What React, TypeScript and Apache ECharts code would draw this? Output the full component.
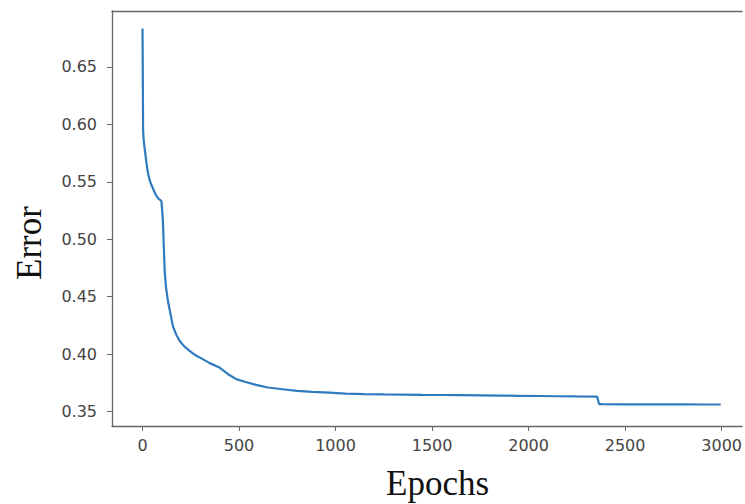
import React, { useEffect, useRef } from "react";
import * as echarts from "echarts";

const epochs = [0, 1, 2, 3, 6, 12, 20, 29, 38, 47, 55, 65, 75, 85, 93, 98, 102, 106, 110, 115, 122, 132, 145, 158, 175, 192, 215, 244, 275, 312, 350, 399, 440, 485, 530, 588, 650, 725, 800, 880, 967, 1052, 1150, 1250, 1350, 1450, 1550, 1652, 1750, 1850, 1950, 2050, 2150, 2250, 2355, 2365, 2380, 2500, 2600, 2700, 2800, 2900, 2995];
const errors = [0.6835, 0.66, 0.63, 0.595, 0.586, 0.578, 0.567, 0.557, 0.551, 0.547, 0.544, 0.54, 0.537, 0.535, 0.534, 0.533, 0.525, 0.515, 0.495, 0.472, 0.458, 0.446, 0.435, 0.424, 0.417, 0.4117, 0.407, 0.4029, 0.399, 0.3957, 0.392, 0.3884, 0.383, 0.3783, 0.376, 0.3733, 0.371, 0.3695, 0.368, 0.3672, 0.3666, 0.3657, 0.3653, 0.365, 0.3648, 0.3646, 0.3645, 0.3644, 0.3642, 0.364, 0.3638, 0.3636, 0.3634, 0.3632, 0.3631, 0.3566, 0.3565, 0.3564, 0.3564, 0.3563, 0.3563, 0.3562, 0.3562];
const xTicks = [0, 500, 1000, 1500, 2000, 2500, 3000];
const yTicks = [0.35, 0.4, 0.45, 0.5, 0.55, 0.6, 0.65];
const xTitle = "Epochs";
const yTitle = "Error";

export default function App() {
  const ref = useRef<HTMLDivElement>(null);
  useEffect(() => {
    if (!ref.current) return;
    const chart = echarts.init(ref.current, null, { renderer: "svg" });
    const tickFont = { fontSize: 16, fontFamily: "DejaVu Sans", color: "#444" };
    const spine = { color: "#666", width: 1.3 };
    chart.setOption({
      animation: false,
      backgroundColor: "#fff",
      grid: {
        left: 112,
        top: 11,
        right: 0,
        height: 415,
        show: false,
      },
      xAxis: [
        {
          type: "value",
          min: -158,
          max: 3106,
          splitLine: { show: false },
          axisLine: { show: true, onZero: false, lineStyle: spine },
          axisTick: { show: true, customValues: xTicks, length: 5, lineStyle: { color: "#666" } },
          axisLabel: {
            customValues: xTicks,
            margin: 11,
            formatter: (v: number) => String(v),
            ...tickFont,
          },
        },
        {
          type: "value",
          position: "top",
          min: -158,
          max: 3106,
          splitLine: { show: false },
          axisLine: { show: true, onZero: false, lineStyle: spine },
          axisTick: { show: false },
          axisLabel: { show: false },
        },
      ],
      yAxis: {
        type: "value",
        min: 0.3375,
        max: 0.6987,
        splitLine: { show: false },
        axisLine: { show: true, onZero: false, lineStyle: spine },
        axisTick: { show: true, customValues: yTicks, length: 5, lineStyle: { color: "#666" } },
        axisLabel: {
          customValues: yTicks,
          margin: 15,
          formatter: (v: number) => v.toFixed(2),
          ...tickFont,
        },
      },
      series: [
        {
          type: "line",
          xAxisIndex: 0,
          data: epochs.map((e, i) => [e, errors[i]]),
          showSymbol: false,
          lineStyle: { color: "#2f7bbd", width: 2.2 },
          clip: true,
        },
      ],
      graphic: [
        {
          type: "text",
          left: 436 - 50,
          top: 466,
          style: {
            text: xTitle,
            fontSize: 35,
            fontFamily: "Liberation Serif",
            fill: "#111",
          },
        },
        {
          type: "text",
          x: 29,
          y: 243,
          rotation: Math.PI / 2,
          style: {
            text: yTitle,
            fontSize: 35,
            fontFamily: "Liberation Serif",
            fill: "#111",
            align: "center",
            verticalAlign: "middle",
          },
        },
      ],
    });
    return () => chart.dispose();
  }, []);
  return (
    <div
      ref={ref}
      style={{ position: "fixed", left: 0, top: 0, width: 745, height: 504 }}
    />
  );
}
